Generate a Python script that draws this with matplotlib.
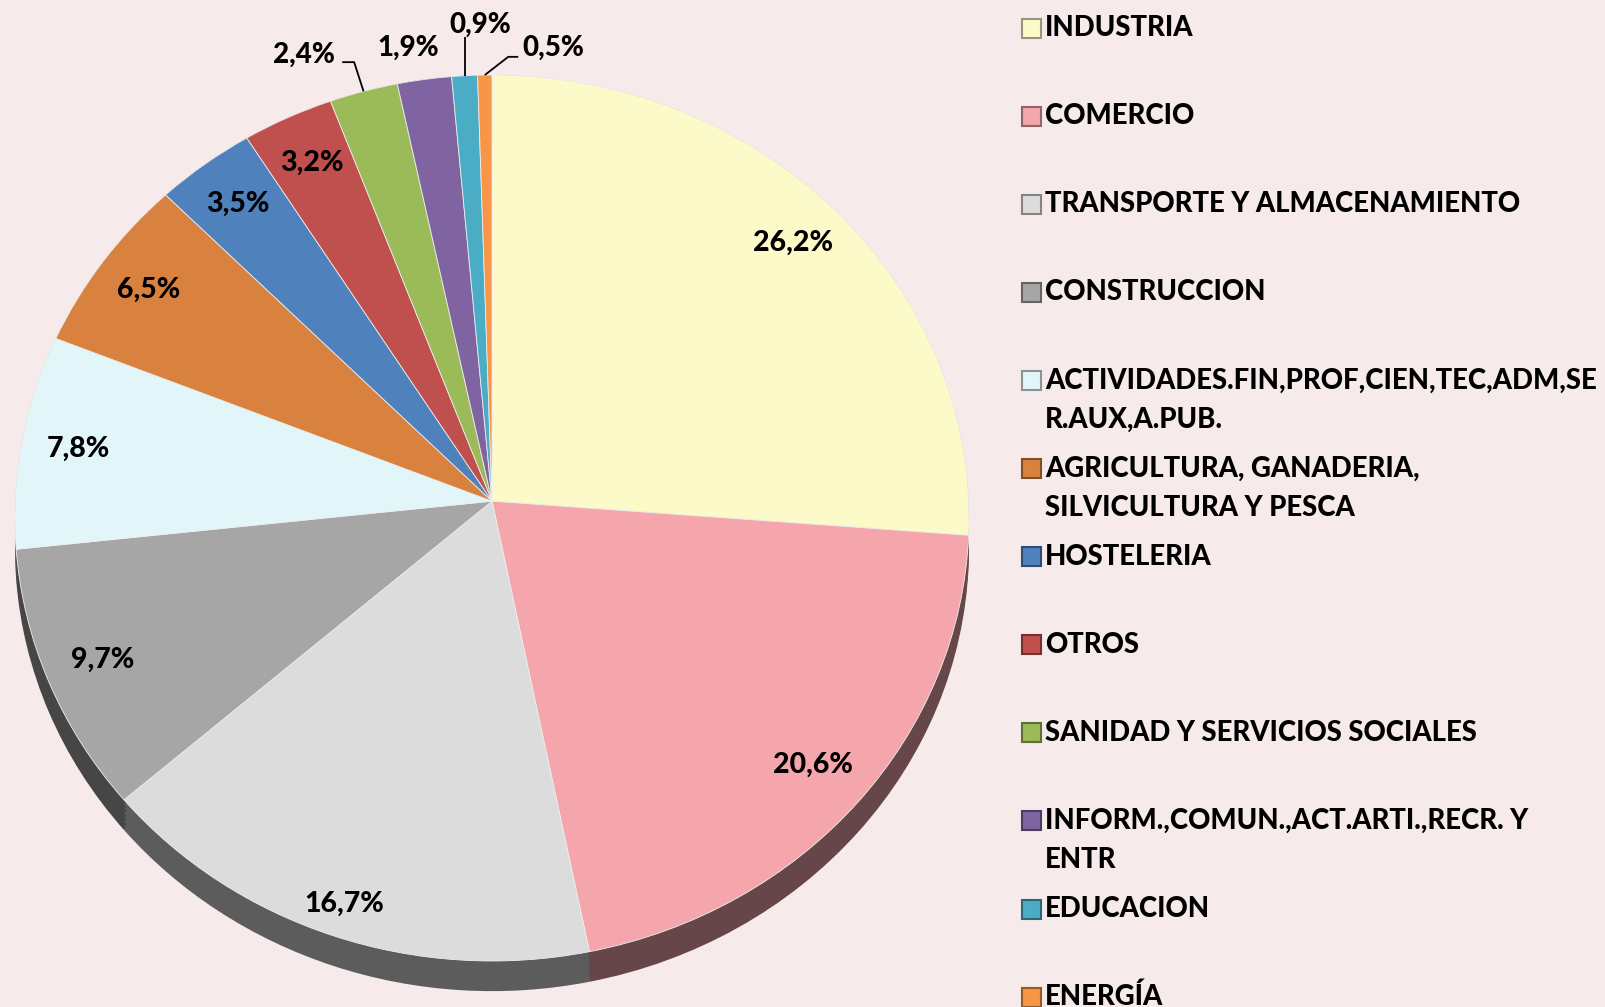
import numpy as np
import matplotlib
matplotlib.use('Agg')
import matplotlib.pyplot as plt
from matplotlib.patches import Rectangle, PathPatch
from matplotlib.path import Path
from matplotlib.colors import to_rgb

# data
sectors = ['INDUSTRIA', 'COMERCIO', 'TRANSPORTE Y ALMACENAMIENTO', 'CONSTRUCCION',
           'ACTIVIDADES.FIN,PROF,CIEN,TEC,ADM,SE\nR.AUX,A.PUB.',
           'AGRICULTURA, GANADERIA,\nSILVICULTURA Y PESCA',
           'HOSTELERIA', 'OTROS', 'SANIDAD Y SERVICIOS SOCIALES',
           'INFORM.,COMUN.,ACT.ARTI.,RECR. Y\nENTR', 'EDUCACION', 'ENERGÍA']
shares = [26.2, 20.6, 16.7, 9.7, 7.8, 6.5, 3.5, 3.2, 2.4, 1.9, 0.9, 0.5]
colours = ['#fcfac8', '#f4a6ac', '#dcdcdc', '#a6a6a6', '#e2f6fa', '#d9823f',
           '#4f81bd', '#c0504d', '#9bbb59', '#8064a2', '#4bacc6', '#f79646']

BG = '#f7eaea'
W, H = 1606, 1007
FONT = 'Lato'
WEIGHT = 'black'
TILT = 0.038   # perspective: pie centre sits a bit above the ellipse centre

# outside labels for the thin slices: index -> (text pos, leader points)
outside = {
    8: ((-0.394, 1.045), [(-0.314, 1.029), (-0.289, 1.029)]),
    9: ((-0.176, 1.061), None),
    10: ((-0.025, 1.113), [(None, 1.086)]),
    11: ((0.128, 1.061), [(0.055, 1.041), (0.034, 1.041)]),
}


def persp(xy, c=TILT):
    xy = np.atleast_2d(xy)
    d = c * xy[:, 1] + 1
    return np.column_stack([xy[:, 0] * np.sqrt(1 - c * c) / d, (xy[:, 1] + c) / d])


def tilted_pie(ax, cols, dy=0.0):
    wed, _ = ax.pie(shares, colors=cols, startangle=90, counterclock=False, radius=1.0)
    out = []
    for w, col in zip(wed, cols):
        p = w.get_path()
        v = persp(p.vertices)
        v[:, 1] -= dy
        patch = PathPatch(Path(v, p.codes), facecolor=col, lw=0)
        w.remove()
        ax.add_patch(patch)
        out.append((w, patch))
    return out


fig = plt.figure(figsize=(W / 100, H / 100), dpi=100, facecolor=BG)

# pie axes in pixel terms: centre (492, 518), rx 477, ry 443
cx, cy, rx, ry = 492, 518, 477, 443
lim = 1.1
aw, ah = 2 * lim * rx, 2 * lim * ry
ax = fig.add_axes([(cx - aw / 2) / W, (H - cy - ah / 2) / H, aw / W, ah / H])
ax.set_facecolor(BG)

# side of the tilted pie: stacked darker copies
dark = [tuple(c * 0.42 for c in to_rgb(col)) for col in colours]
for off in np.linspace(0.068, 0.0, 8):
    tilted_pie(ax, dark, off)

face = tilted_pie(ax, colours)
for w, patch in face:
    patch.set_edgecolor('#efefef')
    patch.set_linewidth(0.6)

for i, ((w, _), v) in enumerate(zip(face, shares)):
    mid = np.deg2rad((w.theta1 + w.theta2) / 2)
    txt = '{:.1f}%'.format(v).replace('.', ',')
    if i in outside:
        pos, lead = outside[i]
        ax.text(pos[0], pos[1], txt, ha='center', va='center', fontsize=20,
                fontweight=WEIGHT, family=FONT)
        if lead:
            ex, ey = persp([np.cos(mid), np.sin(mid)])[0]
            pts = [(ex if p[0] is None else p[0], p[1]) for p in lead]
            xs = [ex] + [p[0] for p in reversed(pts)]
            ys = [ey] + [p[1] for p in reversed(pts)]
            ax.plot(xs, ys, color='black', lw=1.3, solid_capstyle='butt')
    else:
        r = 0.93 if i == 2 else 0.88
        lx, ly = persp([r * np.cos(mid), r * np.sin(mid)])[0]
        ax.text(lx, ly, txt, ha='center', va='center',
                fontsize=20.5, fontweight=WEIGHT, family=FONT)

ax.set_xlim(-lim, lim)
ax.set_ylim(-lim, lim)
ax.set_aspect('auto')
ax.axis('off')

# legend drawn by hand to match the spaced layout
y0, step, line2 = 28, 88.1, 39
for i, (name, col) in enumerate(zip(sectors, colours)):
    yc = y0 + i * step
    fig.patches.append(Rectangle((1022 / W, (H - yc - 9.5) / H), 19 / W, 19 / H,
                                 transform=fig.transFigure, facecolor=col,
                                 edgecolor=tuple(c * 0.6 for c in to_rgb(col)), lw=1.5))
    for j, part in enumerate(name.split('\n')):
        fig.text(1045 / W, (H - yc - j * line2) / H, part, ha='left', va='center',
                 fontsize=19.8, fontweight=WEIGHT, family=FONT)

fig.savefig('out.png', dpi=100, facecolor=BG)
